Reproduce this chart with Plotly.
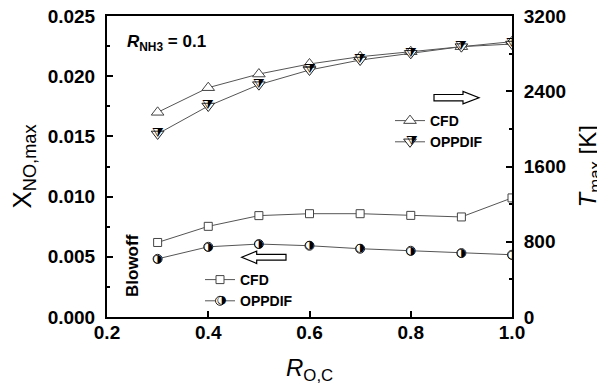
import plotly.graph_objects as go

# ---- data ----
r_oc = [0.3, 0.4, 0.5, 0.6, 0.7, 0.8, 0.9, 1.0]
tmax_cfd = [2176, 2438, 2583, 2690, 2767, 2820, 2874, 2927]
tmax_oppdif = [1946, 2243, 2470, 2626, 2732, 2803, 2874, 2902]
xno_cfd = [0.00619, 0.00753, 0.00842, 0.00858, 0.00858, 0.00844, 0.00831, 0.00989]
xno_oppdif = [0.00483, 0.00583, 0.00606, 0.00592, 0.00567, 0.00550, 0.00531, 0.00517]
series_names = ["CFD", "OPPDIF"]

W, H = 605, 388
OFF = 8  # page body margin offset in the screenshot
# target plot area in screen pixels
SL, SR, ST, SB = 107, 512, 16, 317
L = SL - OFF
T = ST - OFF
R = W - (SR - OFF)
B = H - (SB - OFF)
PW, PH = SR - SL, SB - ST

def px(x):
    return (x - SL) / PW

def py(y):
    return (SB - y) / PH

FONT = "Liberation Sans, Arial, sans-serif"
LINEC = "#555555"
HALF_TRI = "\u29e9"   # down-pointing triangle with right half black
HALF_CIRC = "\u25d1"  # circle with right half black

fig = go.Figure()

# Temperature (right axis)
fig.add_trace(go.Scatter(
    x=r_oc, y=tmax_cfd, name=series_names[0], yaxis="y2", mode="lines+markers",
    line=dict(color=LINEC, width=1),
    marker=dict(symbol="triangle-up", size=11, color="white", line=dict(color="#444", width=1)),
    legend="legend"))
fig.add_trace(go.Scatter(
    x=r_oc, y=tmax_oppdif, name=series_names[1], yaxis="y2", mode="lines+markers",
    line=dict(color=LINEC, width=1),
    marker=dict(symbol="triangle-down", size=11, color="white", line=dict(color="#222", width=1)),
    legend="legend"))
fig.add_trace(go.Scatter(
    x=r_oc, y=tmax_oppdif, yaxis="y2", mode="text", text=[HALF_TRI] * len(r_oc),
    textfont=dict(family="DejaVu Sans", size=13, color="black"),
    textposition="middle center", showlegend=False, hoverinfo="skip"))
# NO (left axis)
fig.add_trace(go.Scatter(
    x=r_oc, y=xno_cfd, name=series_names[0], yaxis="y", mode="lines+markers",
    line=dict(color=LINEC, width=1),
    marker=dict(symbol="square", size=8, color="white", line=dict(color="#444", width=1)),
    legend="legend2"))
fig.add_trace(go.Scatter(
    x=r_oc, y=xno_oppdif, name=series_names[1], yaxis="y", mode="lines+markers",
    line=dict(color=LINEC, width=1),
    marker=dict(symbol="circle", size=9, color="white", line=dict(color="#222", width=1)),
    legend="legend2"))
fig.add_trace(go.Scatter(
    x=r_oc, y=xno_oppdif, yaxis="y", mode="text", text=[HALF_CIRC] * len(r_oc),
    textfont=dict(family="DejaVu Sans", size=11, color="black"),
    textposition="middle center", showlegend=False, hoverinfo="skip"))

tickfont = dict(family=FONT, size=19, color="black", weight="bold")
legfont = dict(family=FONT, size=14, color="black", weight="bold")

fig.update_layout(
    width=W, height=H, margin=dict(l=L, r=R, t=T, b=B, autoexpand=False),
    paper_bgcolor="white", plot_bgcolor="white",
    showlegend=True,
    xaxis=dict(range=[0.2, 1.0], dtick=0.2, tick0=0.2, tickformat=".1f",
               showline=True, linecolor="black", linewidth=2, mirror=True,
               ticks="inside", ticklen=6, tickwidth=1.5, tickcolor="black",
               showgrid=False, zeroline=False, tickfont=tickfont,
               ticklabelstandoff=-3, automargin=False, ticklabeloverflow="allow"),
    yaxis=dict(range=[0, 0.025], dtick=0.005, tick0=0, tickformat=".3f",
               showline=True, linecolor="black", linewidth=2,
               ticks="inside", ticklen=6, tickwidth=1.5, tickcolor="black",
               minor=dict(dtick=0.0025, ticks="inside", ticklen=3, tickcolor="black"),
               showgrid=False, zeroline=False, tickfont=tickfont,
               ticklabelstandoff=6, automargin=False, ticklabeloverflow="allow"),
    yaxis2=dict(range=[0, 3200], dtick=800, tick0=0, overlaying="y", side="right",
                showline=True, linecolor="black", linewidth=2,
                ticks="inside", ticklen=6, tickwidth=1.5, tickcolor="black",
                minor=dict(dtick=400, ticks="inside", ticklen=3, tickcolor="black"),
                showgrid=False, zeroline=False, tickfont=tickfont,
                ticklabelstandoff=6, automargin=False, ticklabeloverflow="allow"),
    legend=dict(x=px(390), y=py(105), xanchor="left", yanchor="top",
                bgcolor="rgba(0,0,0,0)", tracegroupgap=0, font=legfont),
    legend2=dict(x=px(200), y=py(264), xanchor="left", yanchor="top",
                 bgcolor="rgba(0,0,0,0)", tracegroupgap=0, font=legfont),
)

# half-black glyphs over the OPPDIF legend markers
fig.add_annotation(text=HALF_TRI, xref="paper", yref="paper",
                   x=px(412), y=py(140), xanchor="center", yanchor="middle",
                   showarrow=False, font=dict(family="DejaVu Sans", size=13, color="black"))
fig.add_annotation(text=HALF_CIRC, xref="paper", yref="paper",
                   x=px(222), y=py(299), xanchor="center", yanchor="middle",
                   showarrow=False, font=dict(family="DejaVu Sans", size=11, color="black"))

# axis titles as annotations
fig.add_annotation(text="X<sub>NO,max</sub>", xref="paper", yref="paper",
                   x=px(23), y=0.5, xanchor="center", yanchor="middle",
                   textangle=-90, showarrow=False,
                   font=dict(family=FONT, size=26, color="black"))
fig.add_annotation(text="<i>T</i><sub>max</sub> [K]", xref="paper", yref="paper",
                   x=px(589), y=0.5, xanchor="center", yanchor="middle",
                   textangle=-90, showarrow=False,
                   font=dict(family=FONT, size=24, color="black"))
fig.add_annotation(text="<i>R</i><sub>O,C</sub>", xref="paper", yref="paper",
                   x=0.5, y=py(369), xanchor="center", yanchor="middle", showarrow=False,
                   font=dict(family=FONT, size=24, color="black"))
fig.add_annotation(text="<b><i>R</i><sub>NH3</sub> = 0.1</b>", xref="paper", yref="paper",
                   x=px(125), y=py(43), xanchor="left", yanchor="middle", showarrow=False,
                   font=dict(family=FONT, size=17, color="black"))
fig.add_annotation(text="<b>Blowoff</b>", xref="paper", yref="paper",
                   x=px(132), y=py(266), xanchor="center", yanchor="middle",
                   textangle=-90, showarrow=False,
                   font=dict(family=FONT, size=17, color="black"))

def arrow_path(x0, x1, xh, yc, sh, hh):
    # hollow block arrow from x0 (tail) to x1 (tip), head base at xh
    pts = [(x0, yc - sh), (xh, yc - sh), (xh, yc - hh), (x1, yc),
           (xh, yc + hh), (xh, yc + sh), (x0, yc + sh)]
    s = "M " + " L ".join(f"{px(a):.5f},{py(b):.5f}" for a, b in pts) + " Z"
    return s

fig.add_shape(type="path", xref="paper", yref="paper",
              path=arrow_path(434, 479, 463, 97.7, 3.2, 6.2),
              line=dict(color="black", width=1.2), fillcolor="white")
fig.add_shape(type="path", xref="paper", yref="paper",
              path=arrow_path(286, 241.7, 256.7, 257.3, 2.9, 6.2),
              line=dict(color="black", width=1.2), fillcolor="white")

fig.write_html("out.html")
